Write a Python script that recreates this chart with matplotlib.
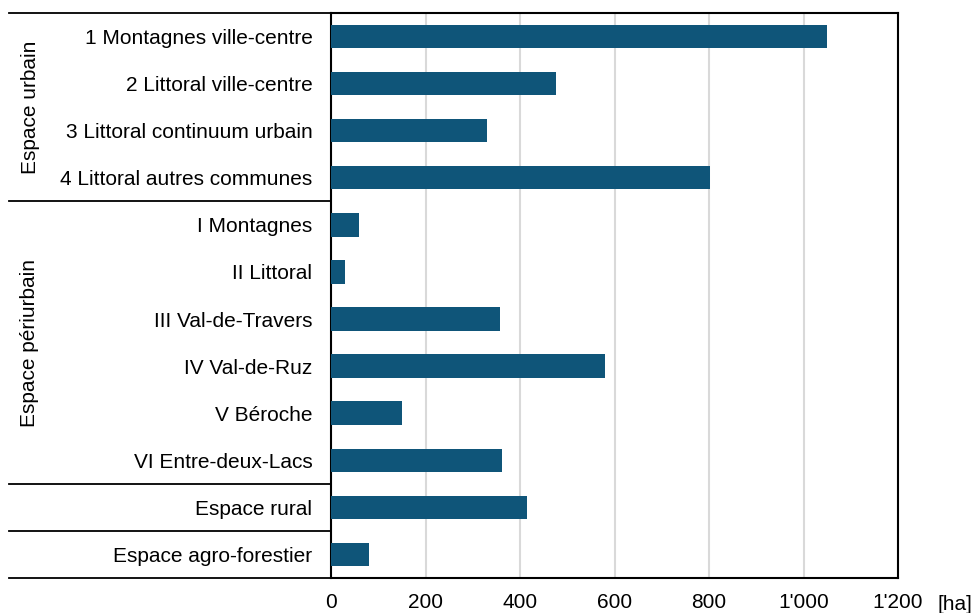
import matplotlib.pyplot as plt
from matplotlib.lines import Line2D

plt.rcParams['font.family'] = ['Liberation Sans', 'DejaVu Sans']

labels = ['1 Montagnes ville-centre', '2 Littoral ville-centre', '3 Littoral continuum urbain',
          '4 Littoral autres communes', 'I Montagnes', 'II Littoral', 'III Val-de-Travers',
          'IV Val-de-Ruz', 'V Béroche', 'VI Entre-deux-Lacs', 'Espace rural',
          'Espace agro-forestier']
values = [1049, 475, 329, 801, 58, 29, 357, 579, 149, 361, 414, 81]
groups = [('Espace urbain', 0, 4), ('Espace périurbain', 4, 10)]
xticks = [0, 200, 400, 600, 800, 1000, 1200]
xticklabels = ['0', '200', '400', '600', '800', "1'000", "1'200"]

fig = plt.figure(figsize=(9.74, 6.13), dpi=100)
ax = fig.add_axes([0.340, 0.057, 0.582, 0.922])

ys = list(range(len(labels)))
ax.barh(ys, values, height=0.5, color='#0f5579', zorder=3)
ax.set_ylim(len(labels) - 0.5, -0.5)
ax.set_xlim(0, 1200)
ax.set_xticks(xticks)
ax.set_xticklabels(xticklabels, fontsize=15)
ax.set_yticks(ys)
ax.set_yticklabels(labels, fontsize=15)
ax.tick_params(axis='y', length=0, pad=13.5)
ax.tick_params(axis='x', length=0, pad=11)
ax.grid(axis='x', color='#d9d9d9', linewidth=1.5, zorder=0)
for s in ax.spines.values():
    s.set_color('black')
    s.set_linewidth(1.5)

# separators extending into the left margin
x0 = 9 / 974
ax_left = 0.340
for b in [-0.5, 3.5, 9.5, 10.5, 11.5]:
    yf = ax.transData.transform((0, b))
    yfig = fig.transFigure.inverted().transform(yf)[1]
    fig.add_artist(Line2D([x0, ax_left], [yfig, yfig], color='black', linewidth=1.3))

for name, a, b in groups:
    yc = (a + b - 1) / 2
    yfig = fig.transFigure.inverted().transform(ax.transData.transform((0, yc)))[1]
    fig.text(30 / 974, yfig, name, rotation=90, ha='center', va='center', fontsize=15)

fig.text(955 / 974, 1 - 604 / 613, '[ha]', ha='center', va='center', fontsize=15)

fig.savefig('out.png', dpi=100)
